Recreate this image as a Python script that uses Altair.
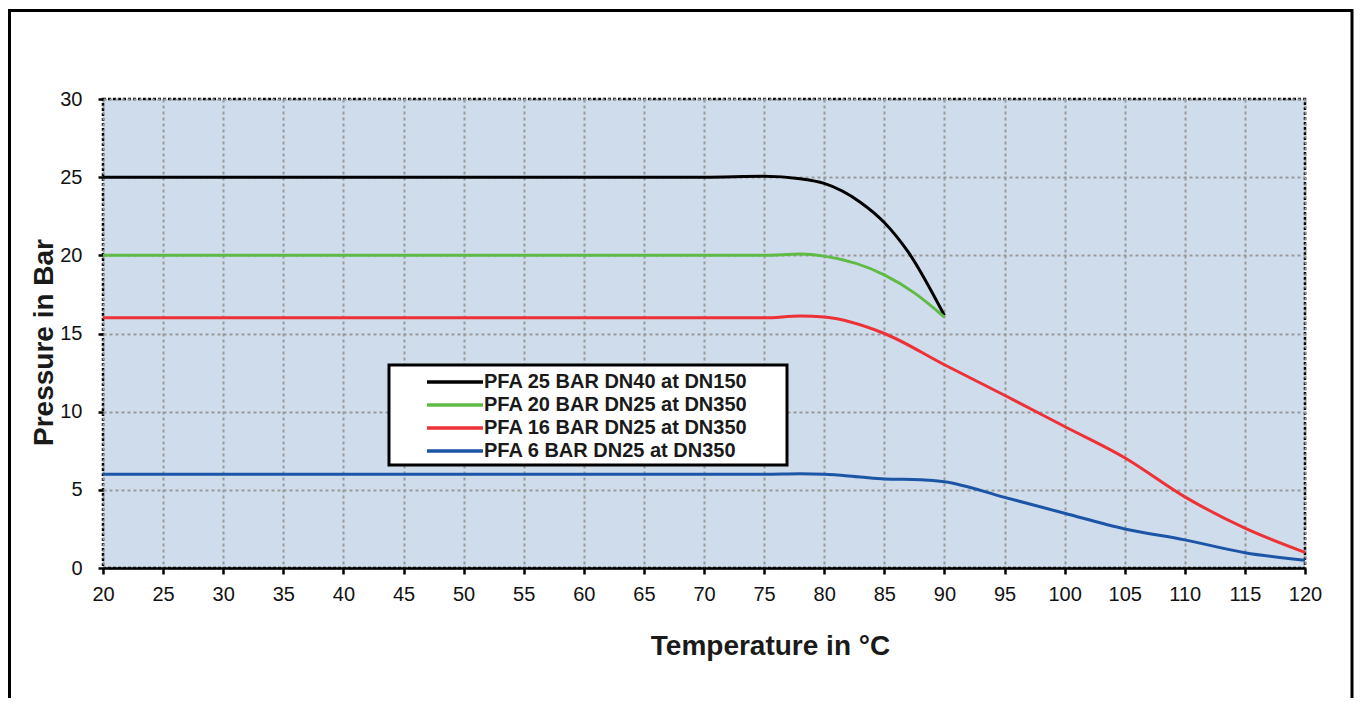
import altair as alt
import pandas as pd

# ---- data ----
series_names = [
    "PFA 25 BAR DN40 at DN150",
    "PFA 20 BAR DN25 at DN350",
    "PFA 16 BAR DN25 at DN350",
    "PFA 6 BAR DN25 at DN350",
]
series_colors = ["#000000", "#5fba46", "#ee3136", "#1d55a6"]

t_25 = [20, 25, 30, 35, 40, 45, 50, 55, 60, 65, 70, 75, 78, 80, 83, 85, 87, 90]
p_25 = [25, 25, 25, 25, 25, 25, 25, 25, 25, 25, 25, 25.06, 24.9, 24.6, 23.4, 22.1, 20.2, 16.15]

t_20 = [20, 25, 30, 35, 40, 45, 50, 55, 60, 65, 70, 75, 78, 80, 85, 87.5, 90]
p_20 = [20, 20, 20, 20, 20, 20, 20, 20, 20, 20, 20, 20, 20.08, 19.95, 18.75, 17.6, 16.05]

t_16 = [20, 25, 30, 35, 40, 45, 50, 55, 60, 65, 70, 75, 78, 80, 85, 90, 95, 100, 105, 110, 115, 120]
p_16 = [16, 16, 16, 16, 16, 16, 16, 16, 16, 16, 16, 16, 16.12, 16.05, 15.0, 13.0, 11.05, 9.05, 7.05, 4.55, 2.55, 1.0]

t_6 = [20, 25, 30, 35, 40, 45, 50, 55, 60, 65, 70, 75, 78, 80, 83, 85, 88, 90, 95, 100, 105, 110, 115, 120]
p_6 = [6, 6, 6, 6, 6, 6, 6, 6, 6, 6, 6, 6, 6.03, 6.0, 5.82, 5.7, 5.65, 5.52, 4.52, 3.5, 2.5, 1.8, 0.98, 0.5]

x_ticks = [20, 25, 30, 35, 40, 45, 50, 55, 60, 65, 70, 75, 80, 85, 90, 95, 100, 105, 110, 115, 120]
y_ticks = [0, 5, 10, 15, 20, 25, 30]

rows = []
for name, ts, ps in zip(series_names, [t_25, t_20, t_16, t_6], [p_25, p_20, p_16, p_6]):
    for t, p in zip(ts, ps):
        rows.append({"series": name, "temp": t, "pressure": p})
df = pd.DataFrame(rows)

FONT = "Liberation Sans"

lines = alt.Chart(df).mark_line(strokeWidth=3, interpolate="monotone").encode(
    x=alt.X(
        "temp:Q",
        scale=alt.Scale(domain=[20, 120], nice=False, zero=False),
        axis=alt.Axis(
            values=x_ticks,
            title="Temperature in °C",
            titleX=667,
            titleY=86,
            titleBaseline="alphabetic",
            titleAlign="center",
            labelPadding=10,
            labelFlush=False,
            labelOverlap=False,
            tickSize=6,
        ),
    ),
    y=alt.Y(
        "pressure:Q",
        scale=alt.Scale(domain=[0, 30], nice=False),
        axis=alt.Axis(
            values=y_ticks,
            title="Pressure in Bar",
            titleX=-51,
            titleY=243,
            titleAngle=-90,
            titleBaseline="alphabetic",
            titleAlign="center",
            labelPadding=16,
            labelFlush=False,
            tickSize=5,
            domain=False,
        ),
    ),
    color=alt.Color(
        "series:N",
        scale=alt.Scale(domain=series_names, range=series_colors),
        legend=alt.Legend(
            title=None,
            orient="none",
            legendX=321,
            legendY=273,
            symbolType="M-5.6,0H5.6",
            symbolSize=100,
            symbolStrokeWidth=3.5,
            symbolOffset=21,
            labelFontSize=20,
            labelFontWeight="bold",
            labelFont=FONT,
            labelColor="#1a1a1a",
            labelOffset=19,
            rowPadding=3,
            padding=0,
            labelLimit=400,
        ),
    ),
    order=alt.Order("temp:Q"),
)

one = pd.DataFrame({"k": [0]})

frame = alt.Chart(one).mark_rect(filled=False, stroke="black", strokeWidth=3).encode(
    x=alt.value(-93.5), x2=alt.value(1249), y=alt.value(-88.5), y2=alt.value(700)
)

legend_box = alt.Chart(one).mark_rect(fill="white", stroke="black", strokeWidth=3).encode(
    x=alt.value(286), x2=alt.value(684), y=alt.value(266), y2=alt.value(366)
)

chart = (
    alt.layer(frame, legend_box, lines)
    .properties(
        width=1202,
        height=469,
        padding={"left": 95, "top": 91, "right": 50, "bottom": 130},
        autosize=alt.AutoSizeParams(type="none"),
        background="white",
    )
    .configure_view(fill="#cfdcec", stroke="black", strokeDash=[3, 2], strokeWidth=2.5)
    .configure_axis(
        labelFont=FONT,
        labelFontSize=20,
        labelColor="#111111",
        titleFont=FONT,
        titleFontSize=28,
        titleFontWeight="bold",
        titleColor="#1a1a1a",
        grid=True,
        gridColor="#999999",
        gridDash=[3, 3],
        gridWidth=2,
        tickColor="black",
        tickWidth=2.5,
        domainColor="black",
        domainWidth=2.5,
    )
)

chart.save("out.html", embed_options={"renderer": "svg", "actions": False})
